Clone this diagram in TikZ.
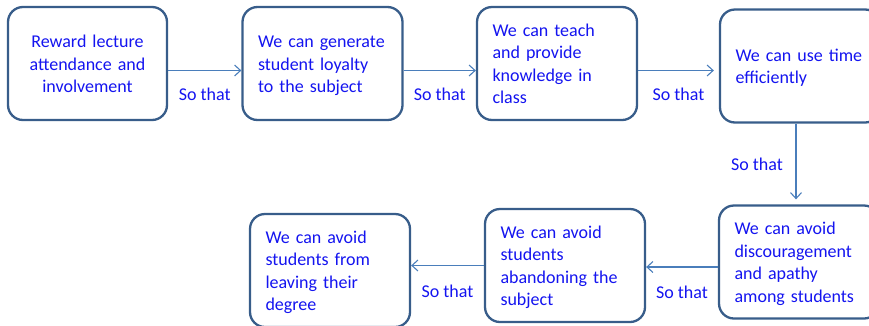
\documentclass[tikz,border=0pt]{standalone}
\usepackage{fontspec}
\setmainfont{Carlito}
\usetikzlibrary{arrows.meta, positioning}
\definecolor{boxline}{RGB}{56,93,138}
\definecolor{arrowline}{RGB}{74,126,187}
\definecolor{textblue}{RGB}{20,20,240}
\tikzset{
     flow box/.style={draw=boxline, line width=2.3pt, rounded corners=15pt, fill=white,
         text=textblue, minimum height=113pt, text width=129pt, inner xsep=15.5pt,
         inner ysep=0pt, align=left, font=\fontsize{18pt}{22.5pt}\selectfont,
         execute at begin node={\rule{0pt}{18pt}},
         execute at end node={\rule[-5pt]{0pt}{5pt}}},
     flow arrow/.style={draw=arrowline, line width=1.1pt, -{Straight Barb[length=6pt,width=11pt]}},
     so that/.style={text=textblue, inner sep=0pt, font=\fontsize{18pt}{22.5pt}\selectfont},
}

\begin{document}
\begin{tikzpicture}[x=1pt, y=-1pt]

\useasboundingbox (0,0) rectangle (869,325);
\clip (0,0) rectangle (869,325);

\node[flow box, align=center, text width=128pt] (reward) at (87.5,63.5) {Reward lecture\\attendance and\\involvement};
\node[flow box] (loyalty) at (322.5,63.5) {We can generate\\student loyalty\\to the subject};
\node[flow box] (teach) at (557,63.5) {We can teach\\and provide\\knowledge in\\class};
\node[flow box] (time) at (800,66) {We can use time\\efficiently};
\node[flow box] (apathy) at (799,262) {We can avoid\\discouragement\\and apathy\\among students};
\node[flow box] (abandon) at (565,265.5) {We can avoid\\students\\abandoning the\\subject};
\node[flow box] (leave) at (330,270.5) {We can avoid\\students from\\leaving their\\degree};

\draw[flow arrow] ([yshift=-7pt]reward.east) -- ([yshift=-7pt]reward.east -| loyalty.west)
    node[so that, midway, yshift=-24pt] (st1) {So that};
\draw[flow arrow] ([yshift=-7pt]loyalty.east) -- ([yshift=-7pt]loyalty.east -| teach.west)
    node[so that, midway, yshift=-24pt] (st2) {So that};
\draw[flow arrow, shorten >=5pt] ([yshift=-7pt]teach.east) -- ([yshift=-7pt]teach.east -| time.west)
    node[so that, midway, yshift=-24pt] (st3) {So that};
\draw[flow arrow, shorten >=5pt] ([xshift=-4pt]time.south) -- ([xshift=-4pt]time.south |- apathy.north)
    node[so that, midway, xshift=-39pt] (st4) {So that};
\draw[flow arrow] ([yshift=-5pt]apathy.west) -- ([yshift=-5pt]apathy.west -| abandon.east)
    node[so that, midway, yshift=-25pt] (st5) {So that};
\draw[flow arrow] (abandon.west) -- (abandon.west -| leave.east)
    node[so that, midway, yshift=-26pt] (st6) {So that};

\end{tikzpicture}
\end{document}
